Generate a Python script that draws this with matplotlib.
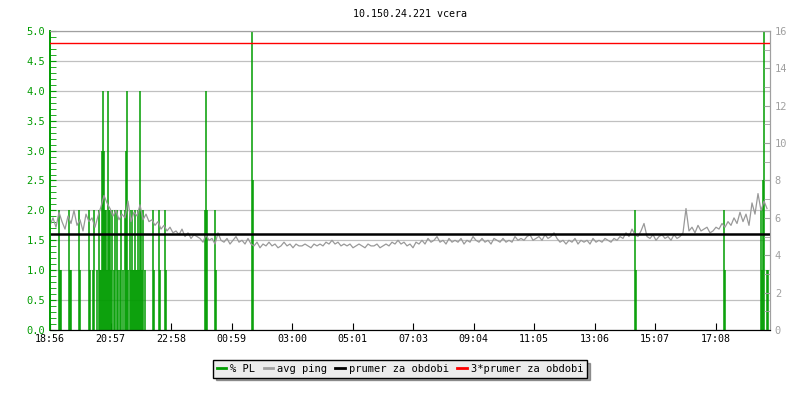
import numpy as np
import matplotlib
matplotlib.use('Agg')
from matplotlib import pyplot as plt
from matplotlib.ticker import MultipleLocator

# x axis: minutes since 18:56, tick every 121 minutes
tick_minutes = [0, 121, 242, 363, 484, 605, 726, 847, 968, 1089, 1210, 1331]
tick_labels = ['18:56', '20:57', '22:58', '00:59', '03:00', '05:01',
               '07:03', '09:04', '11:05', '13:06', '15:07', '17:08']

# packet loss samples (minute, %)
pl_minutes = [18, 20, 22, 38, 40, 42, 58, 60, 78, 80, 86, 88, 94, 98, 100, 102,
              104, 106, 108, 110, 112, 114, 116, 118, 120, 122, 124, 128, 130,
              134, 136, 140, 142, 146, 150, 152, 154, 156, 160, 162, 164, 166,
              168, 170, 172, 174, 176, 178, 180, 182, 184, 186, 190, 206, 208,
              218, 220, 230, 232, 310, 312, 314, 330, 332, 404, 406,
              1170, 1172, 1348, 1350, 1422, 1424, 1426, 1428, 1434, 1436]
pl_values = [2.0, 1.0, 1.0, 2.0, 1.0, 1.0, 2.0, 1.0, 2.0, 1.0, 1.0, 2.0, 1.0, 2.0, 1.0, 1.0,
             3.0, 4.0, 3.0, 2.0, 2.0, 1.0, 4.0, 2.0, 2.0, 1.0, 2.0, 1.0, 2.0,
             2.0, 1.0, 1.0, 2.0, 1.0, 2.0, 3.0, 4.0, 1.0, 2.0, 1.0, 2.0, 1.0,
             1.0, 2.0, 1.0, 1.0, 2.0, 1.0, 4.0, 2.0, 1.0, 2.0, 1.0, 2.0, 1.0,
             2.0, 1.0, 2.0, 1.0, 2.0, 4.0, 2.0, 2.0, 1.0, 5.0, 2.5,
             2.0, 1.0, 2.0, 1.0, 2.0, 1.0, 2.5, 5.0, 1.0, 1.0]

# average ping in ms, one value every 6 minutes
ping = [5.6, 6.0, 5.5, 6.3, 5.8, 5.4, 6.1, 5.7, 6.4, 5.6, 5.9, 5.3, 6.2, 5.8, 6.0, 5.5, 6.1,
        6.6, 7.2, 6.8,
        6.5, 6.1, 6.4, 5.9, 6.2, 6.0, 6.9, 5.8, 6.3, 6.1, 6.7, 5.9, 6.2, 5.8,
        5.9, 5.6, 5.8, 5.4, 5.6, 5.3, 5.5, 5.2,
        5.3, 5.1, 5.4, 5.0, 5.2, 4.9, 5.1, 5.0,
        4.9, 4.7, 5.1, 4.8, 4.9, 4.6, 5.2, 4.8, 4.7, 4.9, 4.6, 4.8, 5.0, 4.7, 4.8, 4.6, 4.9,
        4.6, 4.5, 4.7, 4.4, 4.6, 4.5, 4.7, 4.5, 4.6, 4.4, 4.5, 4.7, 4.5, 4.6, 4.4, 4.6, 4.5,
        4.5, 4.6, 4.5, 4.4, 4.6, 4.5, 4.6, 4.5, 4.7, 4.6, 4.8, 4.6, 4.7, 4.5, 4.6, 4.5,
        4.6, 4.4, 4.5, 4.6, 4.5, 4.4, 4.6, 4.5, 4.5, 4.6, 4.4, 4.5, 4.6, 4.5, 4.7, 4.6,
        4.8, 4.6, 4.7, 4.5, 4.6, 4.4, 4.7, 4.6,
        4.8, 4.6, 4.9, 4.7, 4.8, 5.0, 4.7, 4.8, 4.6, 4.9, 4.7, 4.8, 4.7, 4.9, 4.6, 4.8,
        4.7, 5.0, 4.8, 4.7, 4.9, 4.7, 4.8, 4.6, 4.9, 4.8, 4.7, 4.9, 4.7, 4.8, 4.7, 5.0, 4.8,
        4.9, 4.8, 5.0, 5.1, 4.8, 4.9, 5.0, 4.8, 5.1, 4.9, 5.0, 5.2, 4.9,
        4.7, 4.8, 4.6, 4.8, 4.7, 4.9, 4.6, 4.8, 4.7, 4.8, 4.6, 4.9, 4.7, 4.8, 4.7, 4.9,
        4.8, 4.7, 4.9, 4.8, 5.0, 4.9, 5.2, 5.0, 5.4, 5.1,
        5.0, 5.3, 5.7, 5.0, 4.9, 5.1, 4.8, 5.0, 5.1, 4.9, 5.0, 4.8, 5.1, 4.9, 5.0, 5.2,
        6.5, 5.3, 5.5, 5.2, 5.6, 5.3, 5.4, 5.5, 5.2,
        5.3, 5.5, 5.4, 5.7, 5.5, 5.8, 5.6, 6.0, 5.7, 6.3, 5.8, 6.2, 5.6,
        6.8, 6.2, 7.3, 6.4, 6.9, 6.5]
ping_minutes = np.arange(len(ping)) * 6

avg_ping = 5.12
avg_ping3 = 3 * avg_ping

green = '#009c00'
grey = '#a0a0a0'
mono = 'DejaVu Sans Mono'

fig = plt.figure(figsize=(8, 4), dpi=100)
ax = fig.add_axes([0.0625, 0.175, 0.9, 0.7475])
ax2 = ax.twinx()

ax.vlines(pl_minutes, 0, pl_values, color=green, lw=1.1)
ax2.plot(ping_minutes, ping, color='#999999', lw=0.9)
ax2.axhline(avg_ping, color='black', lw=1.8)
ax2.axhline(avg_ping3, color='#ff0000', lw=1.0, zorder=5)

ax.set_xlim(0, 1440)
ax.set_ylim(0, 5)
ax2.set_ylim(0, 16)

ax.set_xticks(tick_minutes)
ax.set_xticklabels(tick_labels, fontfamily=mono, fontsize=7.2)
ax.yaxis.set_minor_locator(MultipleLocator(0.1))
ax.set_yticks(np.arange(0, 5.01, 0.5))
ax.set_yticklabels(['%.1f' % v for v in np.arange(0, 5.01, 0.5)],
                   fontfamily=mono, fontsize=7.5)
ax.grid(axis='y', color='#c0c0c0', lw=0.9)
ax.set_axisbelow(True)
ax.tick_params(axis='y', which='both', direction='in', color=green,
               labelcolor=green, length=4)
ax.tick_params(axis='x', direction='in', length=5, color='black', pad=3)

ax2.yaxis.set_major_locator(MultipleLocator(2))
ax2.yaxis.set_minor_locator(MultipleLocator(1))
ax2.tick_params(axis='y', which='both', direction='in', color=grey,
                labelcolor=grey, length=4)
for lab in ax2.get_yticklabels():
    lab.set_fontfamily(mono)
    lab.set_fontsize(7.5)

for a in (ax, ax2):
    a.spines['left'].set_color(green)
    a.spines['left'].set_linewidth(1.2)
    a.spines['bottom'].set_color('black')
    a.spines['top'].set_color(grey)
    a.spines['right'].set_color(grey)

fig.text(0.5125, 0.965, '10.150.24.221 vcera', ha='center', va='center',
         fontfamily=mono, fontsize=7.2)

handles = [plt.Line2D([], [], color=green, lw=2),
           plt.Line2D([], [], color='#a0a0a0', lw=2),
           plt.Line2D([], [], color='black', lw=2),
           plt.Line2D([], [], color='#ff0000', lw=2)]
labels = ['% PL', 'avg ping', 'prumer za obdobi', '3*prumer za obdobi']
leg = fig.legend(handles, labels, loc='center', bbox_to_anchor=(0.5, 0.0775),
                 ncol=4, frameon=True, fancybox=False, shadow=True,
                 handlelength=0.9, handletextpad=0.4, columnspacing=0.8,
                 borderpad=0.35, prop={'family': mono, 'size': 7.5})
leg.get_frame().set_facecolor('#ececec')
leg.get_frame().set_edgecolor('black')
leg.get_frame().set_linewidth(1.0)
leg.get_frame().set_alpha(1)

fig.savefig('out.png', dpi=100)
